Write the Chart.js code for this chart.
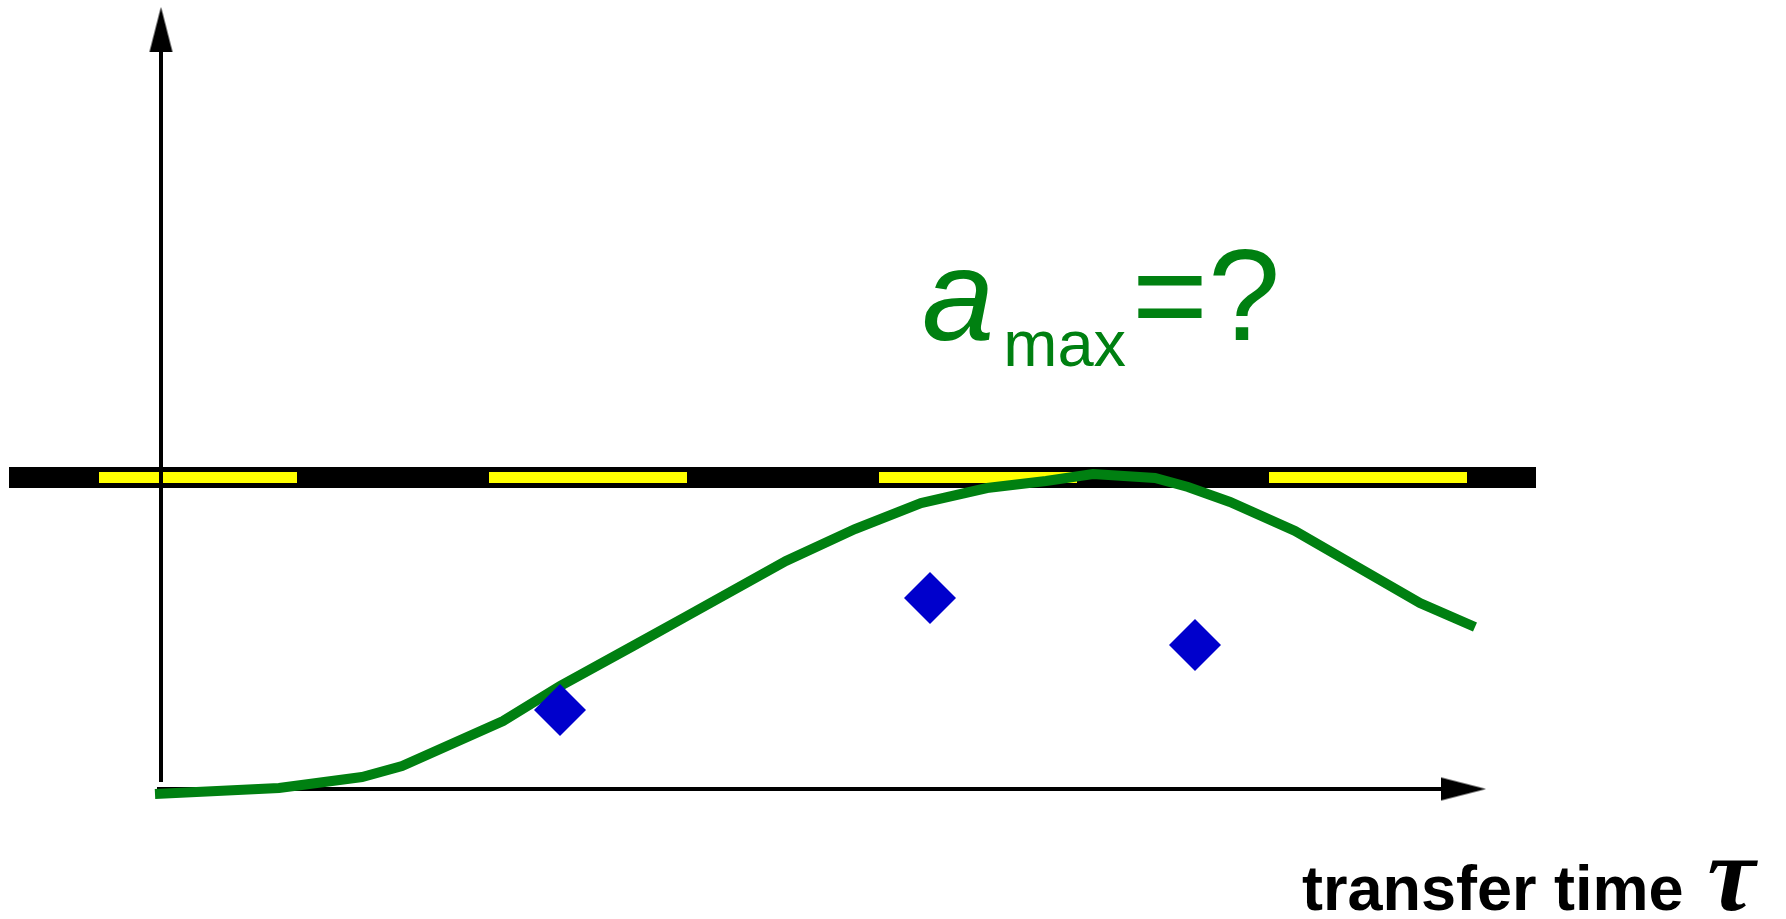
<!DOCTYPE html>
<html>
<head>
<meta charset="utf-8">
<title>a_max over transfer time</title>
<script src="https://cdn.jsdelivr.net/npm/chart.js@4.4.1/dist/chart.umd.min.js"></script>
<style>
  html, body { margin: 0; padding: 0; background: #fff; }
  #wrap { position: relative; width: 1786px; height: 919px; overflow: hidden; }
  #plot { position: absolute; left: 0; top: 0; }
  .lbl { position: absolute; white-space: nowrap; line-height: 1; }
  #amax { left: 922px; top: 230px; color: #008011; font-family: 'Liberation Sans', Arial, sans-serif; font-size: 130px; }
  #amax .sym { font-style: italic; }
  #amax .sub { font-size: 65px; line-height: 0; vertical-align: -26px; margin-left: 9px; margin-right: 6px; }
  #xtitle { left: 1302px; top: 857px; color: #000; font-family: 'Liberation Sans', Arial, sans-serif; font-weight: bold; font-size: 63px; }
  #xtitle .tau { font-family: 'Liberation Serif', serif; font-style: italic; font-size: 108px; line-height: 0; margin-left: 6px; }
</style>
</head>
<body>
<div id="wrap">
  <canvas id="plot" width="1786" height="919"></canvas>
  <div class="lbl" id="amax"><span class="sym">a</span><span class="sub">max</span>=?</div>
  <div class="lbl" id="xtitle">transfer time <span class="tau">τ</span></div>
</div>
<script>
// chart units: origin where the axes cross, 1 unit = 100 px on this canvas
const X_RANGE = [-1.61, 16.25];
const Y_RANGE = [-1.30, 7.89];

// green curve a(τ)
const curveTau = [-0.06, 1.18, 2.01, 2.41, 3.42, 3.99, 4.72, 5.26, 6.25, 6.94, 7.60,
                  8.26, 8.85, 9.32, 9.94, 10.27, 10.69, 11.34, 11.93, 12.59, 13.14];
const curveAcc = [-0.05, 0.01, 0.12, 0.23, 0.68, 1.03, 1.43, 1.73, 2.28, 2.60, 2.86,
                  3.01, 3.08, 3.15, 3.11, 3.02, 2.87, 2.58, 2.24, 1.86, 1.62];

// blue measured points
const measTau = [3.99, 7.69, 10.34];
const measAcc = [0.79, 1.91, 1.44];

// the a_max "road" with its yellow lane marks
const limitAcc = 3.115;
const limitSpan = [-1.52, 13.75];
const laneStart = [-0.62, 3.28, 7.18, 11.08];
const laneEnd = [1.36, 5.26, 9.16, 13.06];

// axes
const tauAxisSpan = [-0.04, 12.84];
const accAxisSpan = [0.07, 7.39];
const tauAxisTip = 13.25;
const accAxisTip = 7.82;

const GREEN = '#008011';
const BLUE = '#0000cc';

// arrow head pointing up, tip at the centre of the canvas
function arrowHead(len, halfW) {
  const c = document.createElement('canvas');
  c.width = Math.ceil(halfW * 2) + 2;
  c.height = len * 2;
  const g = c.getContext('2d');
  g.fillStyle = '#000';
  g.beginPath();
  g.moveTo(c.width / 2, len);
  g.lineTo(c.width / 2 + halfW, len * 2);
  g.lineTo(c.width / 2 - halfW, len * 2);
  g.closePath();
  g.fill();
  return c;
}
const arrow = arrowHead(45, 11.5);

const lanePoints = [];
laneStart.forEach((s, i) => {
  lanePoints.push({ x: s, y: limitAcc }, { x: laneEnd[i], y: limitAcc }, { x: laneEnd[i], y: null });
});

function seg(xs, ys) {
  return xs.map((x, i) => ({ x: x, y: ys[i] }));
}

const lineBase = {
  showLine: true,
  pointRadius: 0,
  tension: 0,
  borderCapStyle: 'butt',
  spanGaps: false,
};

new Chart(document.getElementById('plot'), {
  type: 'scatter',
  data: {
    datasets: [
      {
        ...lineBase,
        label: 'a_max limit',
        data: seg(limitSpan, [limitAcc, limitAcc]),
        borderColor: '#000',
        borderWidth: 21,
        order: 10,
      },
      {
        ...lineBase,
        label: 'lane marks',
        data: lanePoints,
        borderColor: '#ffff00',
        borderWidth: 11,
        order: 9,
      },
      {
        ...lineBase,
        label: 'tau axis',
        data: seg(tauAxisSpan, [0, 0]),
        borderColor: '#000',
        borderWidth: 4,
        order: 8,
      },
      {
        ...lineBase,
        label: 'a axis',
        data: seg([0, 0], accAxisSpan),
        borderColor: '#000',
        borderWidth: 4,
        order: 8,
      },
      {
        label: 'tau arrow',
        data: [{ x: tauAxisTip, y: 0 }],
        pointStyle: arrow,
        rotation: 90,
        pointRadius: 1,
        order: 7,
      },
      {
        label: 'a arrow',
        data: [{ x: 0, y: accAxisTip }],
        pointStyle: arrow,
        rotation: 0,
        pointRadius: 1,
        order: 7,
      },
      {
        ...lineBase,
        label: 'a(tau)',
        data: seg(curveTau, curveAcc),
        borderColor: GREEN,
        borderWidth: 10,
        borderJoinStyle: 'miter',
        order: 2,
      },
      {
        label: 'measured',
        data: seg(measTau, measAcc),
        pointStyle: 'rectRot',
        pointRadius: 26,
        backgroundColor: BLUE,
        borderWidth: 0,
        order: 1,
      },
    ],
  },
  options: {
    responsive: false,
    animation: false,
    events: [],
    layout: { padding: 0, autoPadding: false },
    plugins: {
      legend: { display: false },
      tooltip: { enabled: false },
    },
    scales: {
      x: { type: 'linear', display: false, min: X_RANGE[0], max: X_RANGE[1] },
      y: { type: 'linear', display: false, min: Y_RANGE[0], max: Y_RANGE[1] },
    },
  },
});
</script>
</body>
</html>
